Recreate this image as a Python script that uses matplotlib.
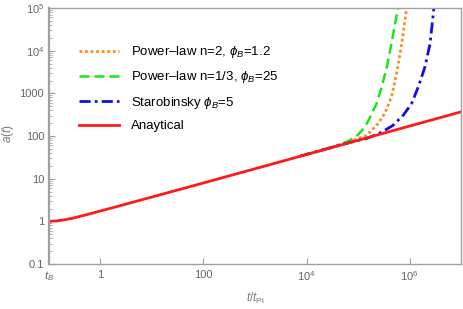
import matplotlib
matplotlib.use("Agg")

import matplotlib.pyplot as plt
import numpy as np
from matplotlib.ticker import LogLocator, NullLocator, FixedLocator

# values, as log10(t/t_Pl) and log10(a)
logt_analytic = [-1.0, -0.85, -0.68, -0.55, -0.42, -0.25, -0.1, 0.23, 0.55, 1.03,
                 2.0, 3.0, 4.0, 5.0, 6.0, 7.0]
loga_analytic = [0.0, 0.01, 0.04, 0.072, 0.11, 0.163, 0.211, 0.318, 0.423, 0.581,
                 0.9, 1.233, 1.566, 1.90, 2.233, 2.566]

logt_pl2 = [3.88, 4.3, 4.72, 4.95, 5.14, 5.23, 5.39, 5.52, 5.65, 5.75, 5.85, 5.94, 6.0]
loga_pl2 = [1.53, 1.67, 1.83, 1.92, 2.0, 2.09, 2.29, 2.53, 2.92, 3.47, 4.17, 4.96, 5.5]

logt_pl13 = [3.88, 4.3, 4.52, 4.7, 4.84, 5.0, 5.14, 5.23, 5.36, 5.46, 5.56, 5.65, 5.77, 5.85]
loga_pl13 = [1.53, 1.67, 1.74, 1.82, 1.90, 2.03, 2.22, 2.43, 2.76, 3.15, 3.62, 4.17, 4.96, 5.6]

logt_star = [3.88, 4.6, 5.0, 5.14, 5.27, 5.46, 5.68, 5.88, 6.04, 6.17, 6.30, 6.40, 6.47, 6.52]
loga_star = [1.53, 1.77, 1.90, 1.93, 1.99, 2.09, 2.25, 2.49, 2.76, 3.15, 3.62, 4.17, 4.96, 5.5]

labels = ["Power\u2013law n=2, $\\phi_B$=1.2",
          "Power\u2013law n=1/3, $\\phi_B$=25",
          "Starobinsky $\\phi_B$=5",
          "Anaytical"]

xticks = [0.1, 1, 100, 1e4, 1e6]
xticklabels = ["$t_B$", "1", "100", "$10^4$", "$10^6$"]
yticks = [0.1, 1, 10, 100, 1000, 1e4, 1e5]
yticklabels = ["0.1", "1", "10", "100", "1000", "$10^4$", "$10^5$"]

plt.rcParams['font.family'] = ['Liberation Sans', 'DejaVu Sans']
plt.rcParams['mathtext.fontset'] = 'custom'
plt.rcParams['mathtext.rm'] = 'Liberation Sans'
plt.rcParams['mathtext.it'] = 'Liberation Sans:italic'

fig = plt.figure(figsize=(4.63, 3.09), dpi=100)
ax = fig.add_axes([0.1058, 0.1456, 0.8899, 0.8284])

ax.plot(10 ** np.array(logt_pl2), 10 ** np.array(loga_pl2), color='#ff8c1a',
        linestyle=(0, (1, 1)), linewidth=2, label=labels[0])
ax.plot(10 ** np.array(logt_pl13), 10 ** np.array(loga_pl13), color='#19e619',
        linestyle=(0, (4, 2)), linewidth=1.8, label=labels[1])
ax.plot(10 ** np.array(logt_star), 10 ** np.array(loga_star), color='#1010e6',
        linestyle=(0, (4, 1.5, 1, 1.5)), linewidth=2, label=labels[2])
ax.plot(10 ** np.array(logt_analytic), 10 ** np.array(loga_analytic), color='#ff1a1a',
        linewidth=2, label=labels[3])

ax.set_xscale('log')
ax.set_yscale('log')
ax.set_xlim(0.1, 1e7)
ax.set_ylim(0.1, 1e5)

ax.xaxis.set_major_locator(FixedLocator(xticks))
ax.set_xticklabels(xticklabels)
ax.xaxis.set_minor_locator(NullLocator())
ax.yaxis.set_major_locator(FixedLocator(yticks))
ax.set_yticklabels(yticklabels)
ax.yaxis.set_minor_locator(LogLocator(base=10, subs=np.arange(2, 10), numticks=20))

gray = '#a0a0a0'
for s in ax.spines.values():
    s.set_color(gray)
    s.set_linewidth(1.0)
ax.spines['left'].set_linewidth(1.6)
ax.tick_params(axis='both', which='major', direction='in', length=4, width=0.8,
               color=gray, labelcolor='#666666', labelsize=8)
ax.tick_params(axis='y', which='minor', direction='in', length=2, width=0.6, color=gray)
ax.tick_params(axis='x', pad=4)

ax.set_ylabel('$a(t)$', color='#777777', fontsize=8.5)
ax.yaxis.set_label_coords(-0.08, 0.51)
ax.set_xlabel('$t/t_{\\mathrm{Pl}}$', color='#777777', fontsize=8.5)
ax.xaxis.set_label_coords(0.5, -0.105)

leg = ax.legend(loc='upper left', bbox_to_anchor=(0.045, 0.905), frameon=False,
                fontsize=9.5, handlelength=3.0, handletextpad=0.9, labelspacing=0.7)

plt.savefig('out.png', dpi=100)
